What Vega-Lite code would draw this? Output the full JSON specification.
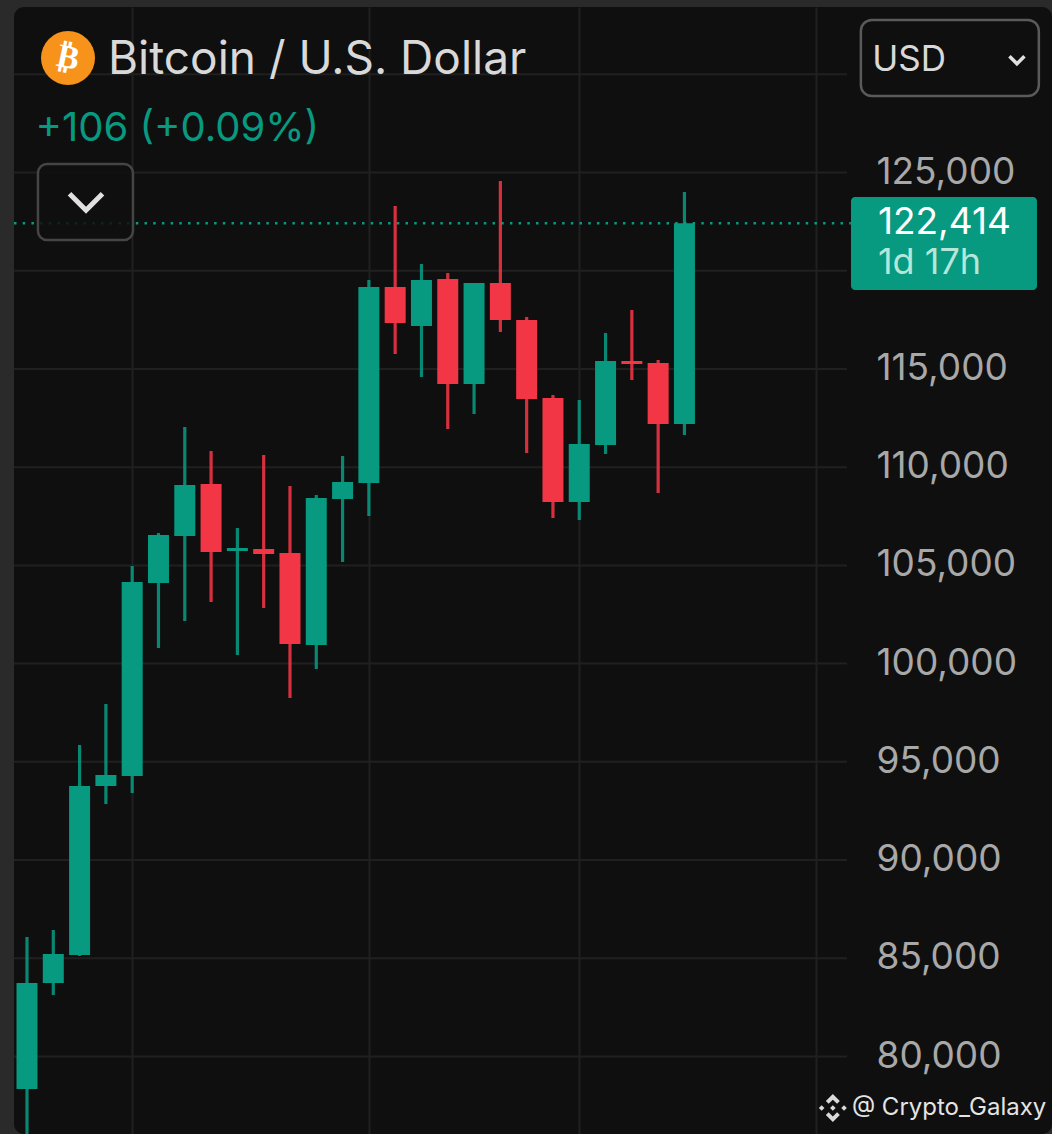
{
  "$schema": "https://vega.github.io/schema/vega-lite/v6.json",
  "description": "Bitcoin / U.S. Dollar weekly candles on a dark panel.",
  "width": 1038,
  "height": 1127,
  "autosize": "none",
  "padding": {"left": 14, "top": 7, "right": 0, "bottom": 0},
  "background": "#2a2a2a",
  "view": {"fill": "#0f0f0f", "stroke": null, "cornerRadius": 10},
  "title": {
    "text": "Bitcoin / U.S. Dollar",
    "anchor": "start",
    "frame": "group",
    "dx": 94,
    "offset": -113,
    "baseline": "alphabetic",
    "font": "Inter",
    "fontSize": 46,
    "fontWeight": 400,
    "color": "#d9d9d9"
  },
  "datasets": {
    "candles": [
      {"date": "2025-04-07", "open": 78344, "high": 86082, "low": 74500, "close": 83740},
      {"date": "2025-04-14", "open": 83740, "high": 86438, "low": 83130, "close": 85217},
      {"date": "2025-04-21", "open": 85166, "high": 95856, "low": 85115, "close": 93769},
      {"date": "2025-04-28", "open": 93769, "high": 97943, "low": 92853, "close": 94329},
      {"date": "2025-05-05", "open": 94278, "high": 104968, "low": 93412, "close": 104154},
      {"date": "2025-05-12", "open": 104103, "high": 106648, "low": 100794, "close": 106546},
      {"date": "2025-05-19", "open": 106495, "high": 112044, "low": 102168, "close": 109092},
      {"date": "2025-05-26", "open": 109142, "high": 110822, "low": 103136, "close": 105681},
      {"date": "2025-06-02", "open": 105732, "high": 106903, "low": 100438, "close": 105885},
      {"date": "2025-06-09", "open": 105834, "high": 110619, "low": 102830, "close": 105579},
      {"date": "2025-06-16", "open": 105630, "high": 109041, "low": 98249, "close": 100998},
      {"date": "2025-06-23", "open": 100947, "high": 108583, "low": 99725, "close": 108430},
      {"date": "2025-06-30", "open": 108379, "high": 110568, "low": 105172, "close": 109244},
      {"date": "2025-07-07", "open": 109193, "high": 119527, "low": 107513, "close": 119171},
      {"date": "2025-07-14", "open": 119171, "high": 123294, "low": 115760, "close": 117338},
      {"date": "2025-07-21", "open": 117186, "high": 120342, "low": 114589, "close": 119527},
      {"date": "2025-07-28", "open": 119578, "high": 119884, "low": 111942, "close": 114233},
      {"date": "2025-08-04", "open": 114233, "high": 119375, "low": 112706, "close": 119375},
      {"date": "2025-08-11", "open": 119375, "high": 124567, "low": 116880, "close": 117491},
      {"date": "2025-08-18", "open": 117491, "high": 117644, "low": 110721, "close": 113470},
      {"date": "2025-08-25", "open": 113520, "high": 113673, "low": 107412, "close": 108226},
      {"date": "2025-09-01", "open": 108226, "high": 113419, "low": 107310, "close": 111179},
      {"date": "2025-09-08", "open": 111128, "high": 116829, "low": 110670, "close": 115404},
      {"date": "2025-09-15", "open": 115404, "high": 118000, "low": 114437, "close": 115251},
      {"date": "2025-09-22", "open": 115302, "high": 115455, "low": 108684, "close": 112197},
      {"date": "2025-09-29", "open": 112197, "high": 124007, "low": 111637, "close": 122414}
    ],
    "levels": [
      {"price": 80000}, {"price": 85000}, {"price": 90000}, {"price": 95000}, {"price": 100000},
      {"price": 105000}, {"price": 110000}, {"price": 115000}, {"price": 120000}, {"price": 125000}, {"price": 130000}
    ]
  },
  "layer": [
    {
      "data": {"name": "levels"},
      "mark": {"type": "rule", "color": "#202020", "strokeWidth": 2},
      "encoding": {
        "x": {
          "datum": {"year": 2025, "month": "apr", "date": 3, "hours": 13},
          "type": "temporal",
          "scale": {"domain": ["2025-04-03T13:00", "2026-01-04T20:00"], "nice": false, "padding": 0},
          "axis": {
            "values": ["2025-05-05", "2025-07-07", "2025-09-01", "2025-11-03"],
            "grid": true, "gridColor": "#202020", "gridWidth": 2,
            "labels": false, "ticks": false, "domain": false, "title": null
          }
        },
        "x2": {"datum": {"year": 2025, "month": "nov", "date": 11, "hours": 6}},
        "y": {
          "field": "price",
          "type": "quantitative",
          "scale": {"domain": [76055, 133425], "nice": false, "zero": false},
          "axis": {
            "orient": "right",
            "values": [80000, 85000, 90000, 95000, 100000, 105000, 110000, 115000, 120000, 125000],
            "labelExpr": "datum.value == 120000 ? '' : format(datum.value, ',')",
            "grid": false, "ticks": false, "domain": false, "title": null,
            "labelAlign": "left", "labelPadding": -176, "labelOffset": -0.5, "labelFont": "Inter",
            "labelFontSize": 37, "labelColor": "#a8a8a8", "labelOverlap": false
          }
        }
      }
    },
    {
      "data": {"values": [{"price": 122414}]},
      "mark": {"type": "rule", "color": "#089981", "strokeWidth": 2.5, "strokeDash": [2.5, 6.2]},
      "encoding": {
        "x": {"datum": {"year": 2025, "month": "apr", "date": 3, "hours": 13}, "type": "temporal"},
        "x2": {"datum": {"year": 2025, "month": "nov", "date": 12, "hours": 7}},
        "y": {"field": "price", "type": "quantitative"}
      }
    },
    {
      "data": {"name": "candles"},
      "mark": {"type": "rule", "strokeWidth": 3.2, "opacity": 0.88, "clip": true},
      "encoding": {
        "x": {"field": "date", "type": "temporal"},
        "y": {"field": "low", "type": "quantitative"},
        "y2": {"field": "high"},
        "color": {"condition": {"test": "datum.close >= datum.open", "value": "#089981"}, "value": "#f23645"}
      }
    },
    {
      "data": {"name": "candles"},
      "mark": {"type": "bar", "size": 21, "clip": true},
      "encoding": {
        "x": {"field": "date", "type": "temporal"},
        "y": {"field": "open", "type": "quantitative"},
        "y2": {"field": "close"},
        "color": {"condition": {"test": "datum.close >= datum.open", "value": "#089981"}, "value": "#f23645"}
      }
    },
    {
      "data": {"values": [{}]},
      "mark": {"type": "point", "filled": true, "size": 2916, "color": "#f7931a", "opacity": 1},
      "encoding": {
        "x": {"datum": {"year": 2025, "month": "apr", "date": 17, "hours": 22}, "type": "temporal"},
        "y": {"datum": 130829, "type": "quantitative"}
      }
    },
    {
      "data": {"values": [{"label": "₿"}]},
      "mark": {"type": "text", "font": "DejaVu Sans", "fontWeight": "bold", "fontSize": 33, "color": "#ffffff", "angle": 12},
      "encoding": {
        "x": {"datum": {"year": 2025, "month": "apr", "date": 17, "hours": 22}, "type": "temporal"},
        "y": {"datum": 130829, "type": "quantitative"},
        "text": {"field": "label"}
      }
    },
    {
      "data": {"values": [{"label": "+106 (+0.09%)"}]},
      "mark": {"type": "text", "align": "left", "font": "Inter", "fontSize": 40, "color": "#089981"},
      "encoding": {
        "x": {"datum": {"year": 2025, "month": "apr", "date": 9, "hours": 6}, "type": "temporal"},
        "y": {"datum": 127216, "type": "quantitative"},
        "text": {"field": "label"}
      }
    },
    {
      "data": {"values": [{}]},
      "mark": {"type": "rect", "fill": "#0f0f0f", "fillOpacity": 0.85, "stroke": "#454545", "strokeWidth": 2.5, "cornerRadius": 9},
      "encoding": {
        "x": {"datum": {"year": 2025, "month": "apr", "date": 9, "hours": 22}, "type": "temporal"},
        "x2": {"datum": {"year": 2025, "month": "may", "date": 5, "hours": 5}},
        "y": {"datum": 125433, "type": "quantitative"},
        "y2": {"datum": 121564}
      }
    },
    {
      "data": {"values": [{}]},
      "mark": {"type": "point", "shape": "M-1,-0.5L0,0.5L1,-0.5", "filled": false, "size": 1089, "color": "#e0e0e0", "strokeWidth": 5, "opacity": 1},
      "encoding": {
        "x": {"datum": {"year": 2025, "month": "apr", "date": 22, "hours": 17}, "type": "temporal"},
        "y": {"datum": 123498, "type": "quantitative"}
      }
    },
    {
      "data": {"values": [{}]},
      "mark": {"type": "rect", "fill": "#0f0f0f", "stroke": "#5a5a5a", "strokeWidth": 2.5, "cornerRadius": 11},
      "encoding": {
        "x": {"datum": {"year": 2025, "month": "nov", "date": 14, "hours": 23}, "type": "temporal"},
        "x2": {"datum": {"year": 2026, "month": "jan", "date": 1, "hours": 8}},
        "y": {"datum": 132763, "type": "quantitative"},
        "y2": {"datum": 128894}
      }
    },
    {
      "data": {"values": [{"label": "USD"}]},
      "mark": {"type": "text", "align": "left", "font": "Inter", "fontSize": 35, "color": "#d9d9d9"},
      "encoding": {
        "x": {"datum": {"year": 2025, "month": "nov", "date": 18, "hours": 0}, "type": "temporal"},
        "y": {"datum": 130729, "type": "quantitative"},
        "text": {"field": "label"}
      }
    },
    {
      "data": {"values": [{}]},
      "mark": {"type": "point", "shape": "M-1,-0.5L0,0.5L1,-0.5", "filled": false, "size": 225, "color": "#e0e0e0", "strokeWidth": 3.5, "opacity": 1},
      "encoding": {
        "x": {"datum": {"year": 2025, "month": "dec", "date": 26, "hours": 12}, "type": "temporal"},
        "y": {"datum": 130727, "type": "quantitative"}
      }
    },
    {
      "data": {"values": [{}]},
      "mark": {"type": "rect", "fill": "#089981", "cornerRadius": 4},
      "encoding": {
        "x": {"datum": {"year": 2025, "month": "nov", "date": 12, "hours": 8}, "type": "temporal"},
        "x2": {"datum": {"year": 2025, "month": "dec", "date": 31, "hours": 20}},
        "y": {"datum": 123753, "type": "quantitative"},
        "y2": {"datum": 119019}
      }
    },
    {
      "data": {"values": [{"label": "122,414"}]},
      "mark": {"type": "text", "align": "left", "font": "Inter", "fontSize": 37, "color": "#ffffff"},
      "encoding": {
        "x": {"datum": {"year": 2025, "month": "nov", "date": 19, "hours": 12}, "type": "temporal"},
        "y": {"datum": 122431, "type": "quantitative"},
        "text": {"field": "label"}
      }
    },
    {
      "data": {"values": [{"label": "1d 17h"}]},
      "mark": {"type": "text", "align": "left", "font": "Inter", "fontSize": 36, "color": "#b5e6da"},
      "encoding": {
        "x": {"datum": {"year": 2025, "month": "nov", "date": 19, "hours": 12}, "type": "temporal"},
        "y": {"datum": 120394, "type": "quantitative"},
        "text": {"field": "label"}
      }
    },
    {
      "data": {"values": [{}]},
      "mark": {"type": "point", "shape": "M0,-1L0.5,-0.5L0.3,-0.3L0,-0.6L-0.3,-0.3L-0.5,-0.5ZM0,1L0.5,0.5L0.3,0.3L0,0.6L-0.3,0.3L-0.5,0.5ZM-1,0L-0.8,-0.2L-0.6,0L-0.8,0.2ZM1,0L0.8,-0.2L0.6,0L0.8,0.2ZM0,-0.2L0.2,0L0,0.2L-0.2,0Z", "filled": true, "size": 784, "color": "#d9d9d9", "opacity": 1},
      "encoding": {
        "x": {"datum": {"year": 2025, "month": "nov", "date": 7, "hours": 12}, "type": "temporal"},
        "y": {"datum": 77377, "type": "quantitative"}
      }
    },
    {
      "data": {"values": [{"label": "@ Crypto_Galaxy"}]},
      "mark": {"type": "text", "align": "left", "font": "Inter", "fontSize": 24, "color": "#e4e4e4"},
      "encoding": {
        "x": {"datum": {"year": 2025, "month": "nov", "date": 12, "hours": 14}, "type": "temporal"},
        "y": {"datum": 77377, "type": "quantitative"},
        "text": {"field": "label"}
      }
    }
  ]
}
